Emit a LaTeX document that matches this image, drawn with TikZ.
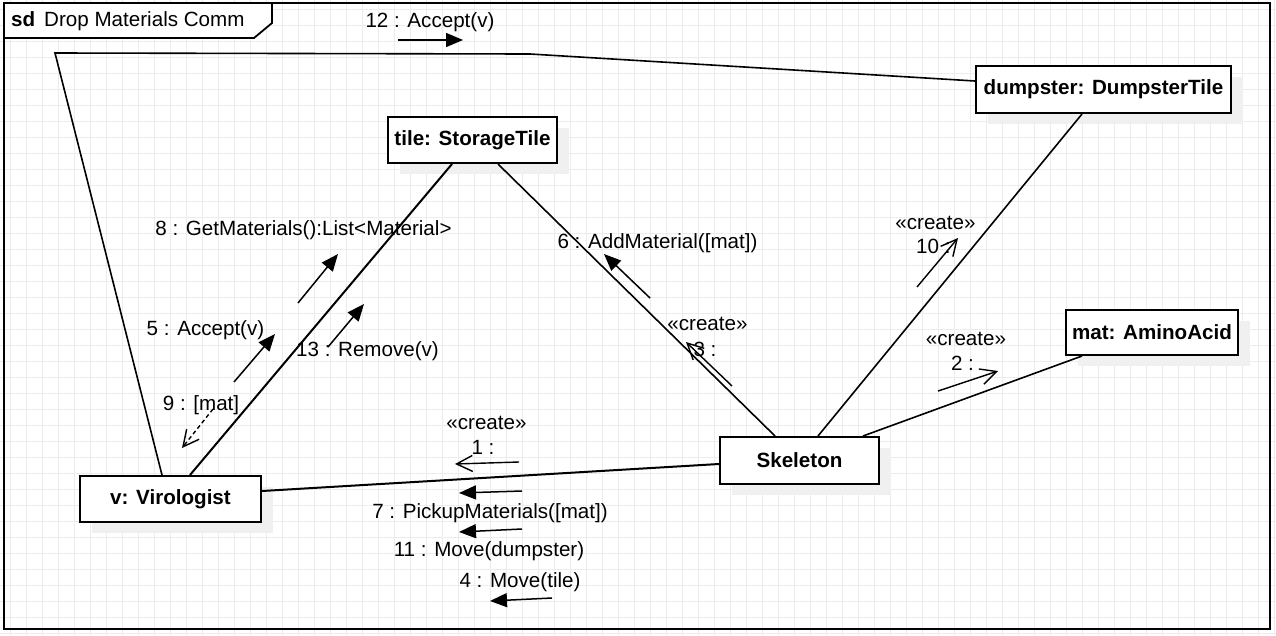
\documentclass[tikz,border=0pt]{standalone}
\usepackage{fontspec}
\setmainfont{Liberation Sans}
\usetikzlibrary{arrows.meta,shadows,calc}
\definecolor{gridc}{RGB}{236,236,236}
\definecolor{shadc}{RGB}{240,240,240}
\begin{document}
\begin{tikzpicture}[x=1pt,y=-1pt,
  every node/.style={font=\fontsize{20.6}{24}\selectfont, inner sep=0pt},
  obj/.style={draw, line width=2pt, fill=white, font=\fontsize{20.6}{24}\selectfont\bfseries,
    drop shadow={shadow xshift=12pt, shadow yshift=-11pt, fill=shadc, opacity=1}},
  conn/.style={line width=1.6pt},
  msgf/.style={line width=1.5pt, -{Triangle[length=17pt,width=14pt]}},
  msgo/.style={line width=1.4pt, -{Straight Barb[length=16pt,width=16pt,line width=1.4pt]}},
  lbl/.style={font=\fontsize{20.6}{24}\selectfont}
]
\useasboundingbox (0,0) rectangle (1276,635);
\fill[white] (0,0) rectangle (1276,635);
% grid
\foreach \gx in {10,26,...,1276} \draw[gridc, line width=1pt] (\gx,0) -- (\gx,635);
\foreach \gy in {9,25,...,635} \draw[gridc, line width=1pt] (0,\gy) -- (1276,\gy);
% frame
\draw[line width=1.8pt] (4,3) rectangle (1270,629);
\draw[line width=1.8pt, fill=white] (4,3) -- (272,3) -- (272,23) -- (254,38) -- (4,38) -- cycle;
\node[anchor=west] (title) at (11,21) {\textbf{sd}\hspace{9pt}Drop Materials Comm};

% objects
\node[obj, minimum width=169pt, minimum height=46pt] (tile) at (472.5,140) {tile: StorageTile};
\node[obj, minimum width=255pt, minimum height=47pt] (dump) at (1103.5,89.5) {dumpster: DumpsterTile};
\node[obj, minimum width=172pt, minimum height=45pt] (mat) at (1152,332.5) {mat: AminoAcid};
\node[obj, minimum width=159pt, minimum height=47pt] (skel) at (799.5,460.5) {Skeleton};
\node[obj, minimum width=181pt, minimum height=46pt] (vir) at (170.5,499) {v: Virologist};

% connectors
\coordinate (c1) at (55,53);
\coordinate (c2) at (530,54);
\draw[conn] ([xshift=-8.5pt]vir.north) -- (c1) -- (c2) -- ([yshift=8.5pt]dump.west);
\draw[line width=2pt] ([xshift=19.5pt]vir.north) -- ([xshift=-20.5pt]tile.south);
\draw[conn] ([xshift=-24.5pt]skel.north) -- ([xshift=25.5pt]tile.south);
\draw[conn] ([xshift=18.5pt]skel.north) -- ([xshift=-21.5pt]dump.south);
\draw[conn] ([xshift=63.5pt]skel.north) -- ([xshift=-70pt]mat.south);
\draw[line width=2pt] ([yshift=8pt]vir.east) -- ([yshift=-3.5pt]skel.west);

% message arrows
\coordinate (m12a) at (398,40); \coordinate (m12b) at (463,40);
\draw[msgf] (m12a) -- (m12b);
\node[lbl] (l12) at (430,22) {12 : Accept(v)};

\coordinate (m8a) at (298,303); \coordinate (m8b) at (338,254);
\draw[msgf] (m8a) -- (m8b);
\node[lbl] (l8) at (303.5,230) {8 : GetMaterials():List<Material>};

\coordinate (m5a) at (234,382); \coordinate (m5b) at (275,334);
\draw[msgf] (m5a) -- (m5b);
\node[lbl] (l5) at (205.5,330) {5 : Accept(v)};

\coordinate (m13a) at (328,347); \coordinate (m13b) at (364,304);
\draw[msgf] (m13a) -- (m13b);
\node[lbl] (l13) at (367.5,351) {13 : Remove(v)};

\node[lbl] (l9) at (201,405) {9 : [mat]};
\coordinate (m9a) at (213,409); \coordinate (m9b) at (182,448);
\draw[msgo, dash pattern=on 4pt off 3pt] (m9a) -- (m9b);

\coordinate (m6a) at (650,298); \coordinate (m6b) at (604,254);
\draw[msgf] (m6a) -- (m6b);
\node[lbl] (l6) at (657.5,243) {6 : AddMaterial([mat])};

\node[lbl] (l3s) at (707.5,324) {«create»};
\node[lbl] (l3) at (705,349) {3 :};
\coordinate (m3a) at (732,386); \coordinate (m3b) at (686,342);
\draw[msgo] (m3a) -- (m3b);

\node[lbl] (l10s) at (935.5,223) {«create»};
\node[lbl, anchor=west] (l10) at (916,246) {10 :};
\coordinate (m10a) at (917,287); \coordinate (m10b) at (958,238);
\draw[msgo] (m10a) -- (m10b);

\node[lbl] (l2s) at (966,339) {«create»};
\node[lbl] (l2) at (962.5,363) {2 :};
\coordinate (m2a) at (938,391); \coordinate (m2b) at (998,371);
\draw[msgo] (m2a) -- (m2b);

\node[lbl] (l1s) at (486.5,423) {«create»};
\node[lbl] (l1) at (483,447) {1 :};
\coordinate (m1a) at (519,462); \coordinate (m1b) at (455,464);
\draw[msgo] (m1a) -- (m1b);

\coordinate (m7a) at (522,491); \coordinate (m7b) at (459,493);
\draw[msgf] (m7a) -- (m7b);
\node[lbl] (l7) at (490,513) {7 : PickupMaterials([mat])};

\coordinate (m11a) at (522,529); \coordinate (m11b) at (459,532);
\draw[msgf] (m11a) -- (m11b);
\node[lbl] (l11) at (489,551) {11 : Move(dumpster)};

\node[lbl] (l4) at (520,582) {4 : Move(tile)};
\coordinate (m4a) at (552,598); \coordinate (m4b) at (490,601);
\draw[msgf] (m4a) -- (m4b);
\end{tikzpicture}
\end{document}
